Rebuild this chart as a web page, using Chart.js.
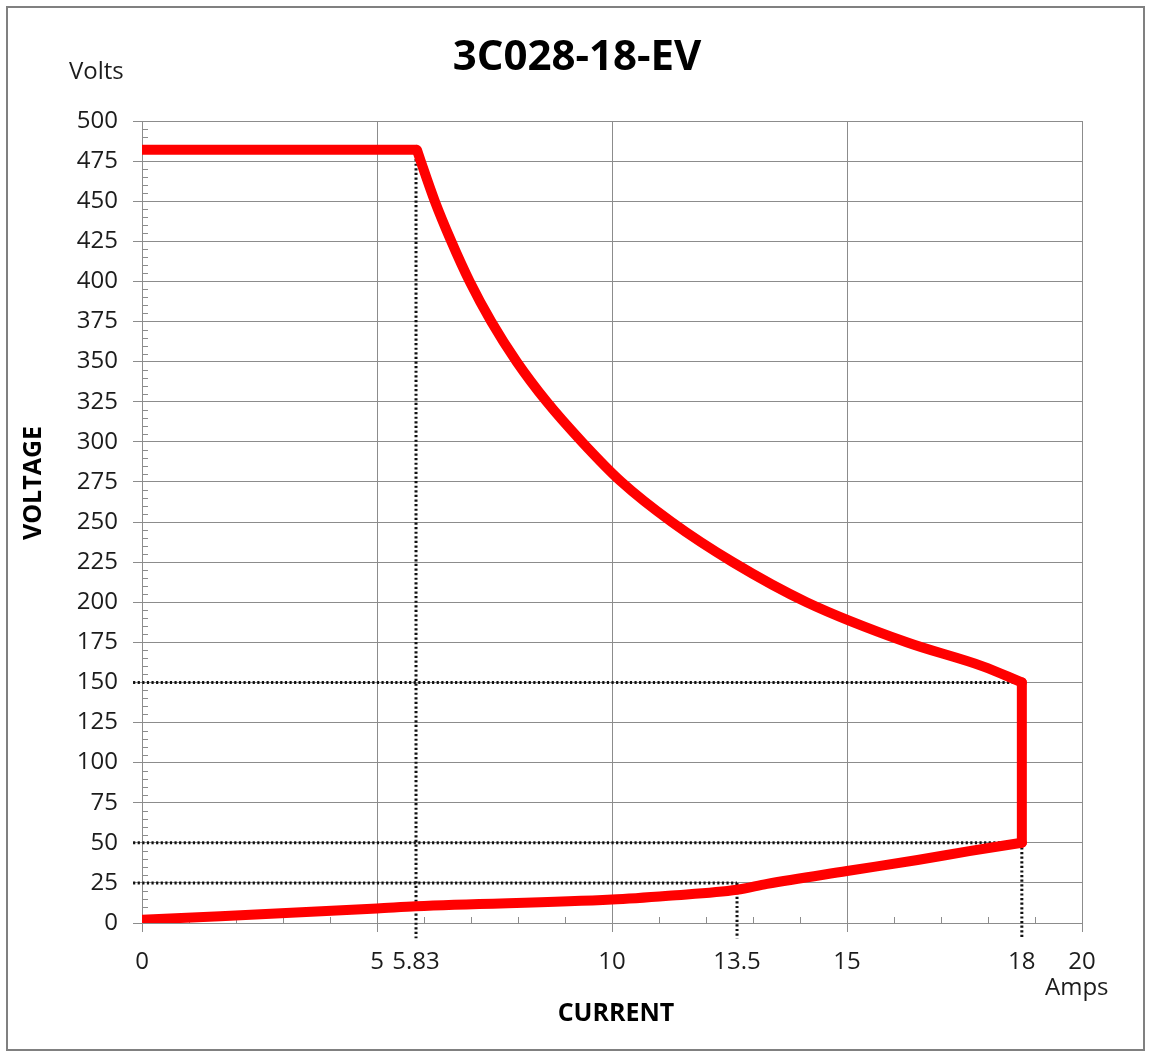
<!DOCTYPE html>
<html><head><meta charset="utf-8">
<script src="https://cdn.jsdelivr.net/npm/chart.js@4.4.1/dist/chart.umd.min.js"></script>
<style>html,body{margin:0;padding:0;background:#fff;overflow:hidden;}</style>
</head><body>
<canvas id="c" width="1152" height="1057"></canvas>
<script>
const chartTitle = '3C028-18-EV';
const xAxisTitle = 'CURRENT';
const yAxisTitle = 'VOLTAGE';
const xUnit = 'Amps';
const yUnit = 'Volts';

// V-I curve pieces (Amps, Volts)
const flatCurrent = [0, 5.85];
const flatVoltage = [482, 482];
const upperCurrent = [5.85, 5.93, 6.23, 6.58, 6.97, 7.43, 7.97, 8.61, 9.36, 10.20, 11.27, 12.57, 14.14, 16.27, 17.89, 18.72];
const upperVoltage = [482, 475, 450, 425, 400, 375, 350, 325, 300, 275, 250, 225, 200, 175, 160, 150];
const verticalCurrent = [18.72, 18.72];
const verticalVoltage = [150, 50];
const lowerCurrent = [0, 5.0, 5.83, 10.0, 11.2, 12.66, 13.3, 15.0, 16.5, 17.6, 18.72];
const lowerVoltage = [2.0, 9.0, 10.4, 14.6, 17.0, 20.7, 24.4, 32.4, 39.3, 44.8, 50];

// axis ticks
const xTickValues = [0, 5, 5.83, 10, 12.66, 15, 18.72, 20];
const xTickLabels = ['0', '5', '5.83', '10', '13.5', '15', '18', '20'];
const xGridValues = [0, 5, 10, 15, 20];
const yTickValues = [0, 25, 50, 75, 100, 125, 150, 175, 200, 225, 250, 275, 300, 325, 350, 375, 400, 425, 450, 475, 500];

// dotted guide lines
const guideHVolts = [150, 50, 25];
const guideHToAmps = [18.72, 18.72, 12.66];
const guideVAmps = [5.83, 12.66, 18.72];
const guideVFromVolts = [482, 25, 50];

const GRID = '#8c8c8c';
const TXT = '#1c1c1c';
const RED = '#ff0000';

const pts = (xs, ys) => xs.map((x, i) => ({x, y: ys[i]}));
const redStyle = {borderColor: RED, borderWidth: 10, pointRadius: 0, borderJoinStyle: 'round', borderCapStyle: 'round', fill: false};
const datasets = [
  Object.assign({data: pts(upperCurrent, upperVoltage), cubicInterpolationMode: 'monotone'}, redStyle),
  Object.assign({data: pts(lowerCurrent, lowerVoltage), cubicInterpolationMode: 'monotone'}, redStyle),
  Object.assign({data: pts(verticalCurrent, verticalVoltage), tension: 0}, redStyle),
  Object.assign({data: pts(flatCurrent, flatVoltage), tension: 0}, redStyle, {borderCapStyle: 'butt'})
];
const dotStyle = {borderColor: '#111', borderWidth: 3, borderDash: [2.2, 2.4], pointRadius: 0, fill: false, clip: false, tension: 0};
guideHVolts.forEach((v, i) => datasets.push(Object.assign({data: [{x: -0.19, y: v}, {x: guideHToAmps[i], y: v}]}, dotStyle)));
guideVAmps.forEach((a, i) => datasets.push(Object.assign({data: [{x: a, y: guideVFromVolts[i]}, {x: a, y: -9.5}]}, dotStyle)));

const decor = {
  id: 'decor',
  beforeDraw(chart) {
    const ctx = chart.ctx;
    ctx.save();
    ctx.fillStyle = '#fff';
    ctx.fillRect(0, 0, chart.width, chart.height);
    ctx.strokeStyle = '#808080';
    ctx.lineWidth = 2;
    ctx.strokeRect(7, 7, 1137, 1043);
    ctx.restore();
  },
  beforeDatasetsDraw(chart) {
    const ctx = chart.ctx, xs = chart.scales.x, ys = chart.scales.y;
    ctx.save();
    ctx.strokeStyle = GRID;
    ctx.lineWidth = 1;
    ctx.beginPath();
    for (let v = 5; v < 500; v += 5) {
      if (v % 25 === 0) continue;
      const y = Math.round(ys.getPixelForValue(v)) + 0.5;
      ctx.moveTo(xs.left, y); ctx.lineTo(xs.left + 6, y);
    }
    for (let a = 1; a < 20; a += 1) {
      if (a % 5 === 0) continue;
      const x = Math.round(xs.getPixelForValue(a)) + 0.5;
      ctx.moveTo(x, ys.bottom); ctx.lineTo(x, ys.bottom - 6);
    }
    ctx.stroke();
    ctx.restore();
  },
  afterDraw(chart) {
    const ctx = chart.ctx, ca = chart.chartArea;
    ctx.save();
    ctx.fillStyle = '#000';
    ctx.textAlign = 'center';
    ctx.textBaseline = 'alphabetic';
    ctx.font = 'bold 42px "Open Sans"';
    ctx.fillText(chartTitle, 577, 70);
    ctx.fillStyle = TXT;
    ctx.font = '24px "Open Sans"';
    ctx.textAlign = 'left';
    ctx.fillText(yUnit, 69, 79);
    ctx.fillText(xUnit, 1045, 995);
    ctx.font = 'bold 25px "Open Sans"';
    ctx.textAlign = 'center';
    ctx.fillStyle = '#000';
    ctx.fillText(xAxisTitle, (ca.left + ca.right) / 2 + 4, 1021);
    ctx.translate(41, 483);
    ctx.rotate(-Math.PI / 2);
    ctx.fillText(yAxisTitle, 0, 0);
    ctx.restore();
  }
};

new Chart(document.getElementById('c'), {
  type: 'line',
  data: {datasets},
  plugins: [decor],
  options: {
    responsive: false, animation: false, devicePixelRatio: 1,
    layout: {padding: {top: 121, right: 70, bottom: 0, left: 0}},
    plugins: {legend: {display: false}, tooltip: {enabled: false}, title: {display: false}},
    scales: {
      x: {
        type: 'linear', min: 0, max: 20,
        afterFit: s => { s.height = 134; },
        afterBuildTicks: s => { s.ticks = xTickValues.map(v => ({value: v})); },
        ticks: {callback: (v, i) => xTickLabels[i], autoSkip: false, maxRotation: 0,
          font: {family: 'Open Sans', size: 24}, color: TXT, padding: 16},
        grid: {color: c => (c.tick && xGridValues.includes(c.tick.value)) ? GRID : 'rgba(0,0,0,0)', lineWidth: 1, tickLength: 9},
        border: {color: GRID, width: 1}
      },
      y: {
        type: 'linear', min: 0, max: 500,
        afterFit: s => { s.width = 142; },
        afterBuildTicks: s => { s.ticks = yTickValues.map(v => ({value: v})); },
        ticks: {autoSkip: false, font: {family: 'Open Sans', size: 24}, color: TXT, padding: 15},
        grid: {color: GRID, lineWidth: 1, tickLength: 9},
        border: {color: GRID, width: 1}
      }
    }
  }
});
</script>
</body></html>
